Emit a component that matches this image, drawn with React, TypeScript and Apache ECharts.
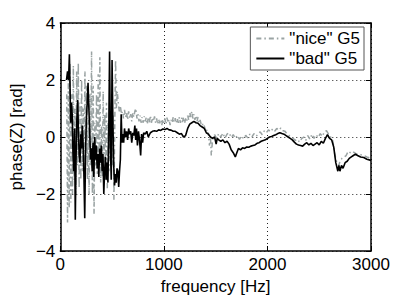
import React, { useEffect, useRef } from "react";
import * as echarts from "echarts";

const badFreq = [60,70,80,88,95,100,108,115,122,130,138,145,152,160,168,175,182,190,198,205,212,220,228,236,244,252,260,268,276,284,292,300,308,316,324,332,340,348,356,364,372,380,388,396,404,412,420,428,436,444,452,460,468,476,484,492,500,508,516,524,532,540,548,556,564,572,580,588,596,604,612,620,630,640,650,660,670,680,690,700,710,720,728,736,745,755,765,776,785,795,805,820,835,850,870,890,910,930,950,970,990,1010,1030,1050,1070,1090,1110,1130,1150,1170,1190,1210,1230,1250,1270,1290,1310,1330,1350,1370,1390,1410,1430,1450,1470,1490,1505,1515,1530,1550,1570,1590,1610,1630,1650,1670,1690,1700,1720,1740,1760,1780,1800,1820,1840,1860,1880,1900,1920,1940,1960,1980,2000,2020,2040,2060,2080,2100,2120,2140,2160,2180,2200,2220,2240,2260,2280,2300,2320,2340,2360,2380,2400,2420,2440,2460,2480,2500,2520,2540,2560,2580,2600,2620,2640,2660,2680,2690,2700,2715,2730,2750,2770,2790,2810,2830,2850,2870,2900,2930,2960,3000];
const badPhase = [2.0,2.3,2.0,2.9,1.6,0.5,1.2,0.8,-0.5,-1.2,0.3,-2.9,-0.8,0.6,1.3,0.2,-0.6,-0.9,0.1,-0.4,0.4,-0.2,-1.3,-2.85,-0.5,0.6,1.2,1.9,1.0,0.2,-0.8,-0.4,-1.2,-0.2,-1.4,0.0,-0.8,-0.3,-1.1,-0.6,-1.4,-0.4,-0.9,-0.3,-1.2,-0.6,-2.0,-1.2,-0.7,-1.5,-0.9,-1.6,0.2,3.0,-0.4,-1.5,2.7,0.5,-1.0,-1.7,-1.3,-1.6,-1.1,-1.2,-1.75,-1.2,-0.8,0.8,-0.2,0.1,-0.2,0.3,0.0,0.2,-0.1,0.3,0.1,0.2,-0.2,0.15,0.05,0.4,-0.1,0.3,-0.3,0.2,-0.1,-0.65,0.1,-0.2,0.15,0.1,0.2,0.0,0.15,0.2,0.22,0.2,0.25,0.23,0.28,0.26,0.3,0.25,0.24,0.2,0.2,0.15,0.1,0.12,0.0,0.05,0.3,0.45,0.5,0.55,0.5,0.48,0.4,0.35,0.3,0.15,0.1,0.0,-0.05,0.0,-0.25,-0.05,-0.1,-0.15,-0.1,-0.2,-0.15,-0.25,-0.45,-0.55,-0.7,-0.6,-0.4,-0.45,-0.38,-0.4,-0.35,-0.36,-0.32,-0.3,-0.28,-0.22,-0.2,-0.15,-0.12,-0.1,-0.05,0.0,0.02,0.05,0.08,0.12,0.15,0.12,0.1,0.05,0.0,-0.05,-0.1,-0.18,-0.25,-0.28,-0.3,-0.32,-0.25,-0.2,-0.28,-0.22,-0.3,-0.25,-0.2,-0.28,-0.15,-0.22,-0.05,0.08,-0.05,-0.1,-0.35,-0.9,-1.2,-1.0,-1.2,-1.0,-1.1,-0.9,-0.85,-0.75,-0.7,-0.65,-0.6,-0.65,-0.7,-0.72,-0.78,-0.82];

const niceFreq = [62,70,78,86,94,102,110,118,126,134,142,150,158,166,174,182,190,198,206,214,222,230,238,246,254,262,270,278,286,294,302,310,318,326,334,342,350,358,366,374,382,390,398,406,414,422,430,438,446,454,462,470,478,486,494,502,510,518,526,534,542,550,560,570,580,590,600,610,620,630,640,650,660,670,680,690,700,710,720,730,740,750,760,770,780,790,800,810,820,830,840,850,860,870,880,890,900,910,920,930,940,950,960,970,980,990,1000,1010,1020,1030,1040,1050,1060,1070,1080,1090,1100,1110,1120,1130,1140,1150,1160,1170,1180,1190,1200,1210,1220,1230,1240,1250,1260,1270,1280,1290,1300,1310,1320,1330,1340,1350,1360,1370,1380,1390,1400,1410,1420,1430,1440,1450,1458,1470,1490,1510,1530,1550,1570,1590,1610,1630,1650,1670,1690,1710,1730,1750,1770,1790,1810,1830,1850,1870,1890,1910,1930,1950,1970,1990,2010,2030,2050,2070,2090,2110,2130,2150,2170,2190,2210,2230,2250,2270,2290,2310,2330,2350,2370,2390,2410,2430,2450,2470,2490,2510,2530,2550,2570,2590,2610,2630,2650,2670,2690,2700,2720,2740,2760,2780,2800,2820,2840,2860,2880,2900,2930,2960,3000];
const nicePhase = [1.5,-3.0,2.0,-2.5,2.6,-2.3,1.5,-2.0,2.5,-1.5,1.0,-2.0,2.3,-1.0,2.6,-1.8,1.2,-1.5,2.0,-1.2,1.0,-1.4,2.3,-0.8,1.8,-1.5,0.6,-2.0,1.5,-1.0,3.0,-2.0,1.8,-2.7,0.5,-1.0,1.5,-1.3,2.2,-0.8,2.8,-1.6,0.4,-1.4,1.6,-1.0,0.8,-1.5,1.2,-1.8,0.5,-1.2,0.9,-0.8,1.2,-1.0,0.8,-2.2,0.5,2.7,1.0,1.6,1.2,0.9,1.1,0.8,0.9,0.65,0.95,0.7,0.85,0.6,0.9,0.65,0.8,0.55,0.85,0.7,0.9,1.0,0.65,0.8,0.55,0.75,0.5,0.7,0.5,0.72,0.55,0.68,0.45,0.7,0.5,0.75,0.5,0.68,0.55,0.72,0.5,0.65,0.45,0.62,0.48,0.6,0.42,0.62,0.5,0.65,0.45,0.68,0.5,0.62,0.42,0.6,0.5,0.7,0.52,0.66,0.48,0.65,0.5,0.7,0.5,0.68,0.52,0.7,0.48,0.65,0.55,0.75,0.6,0.85,0.7,0.9,0.65,0.8,0.6,0.75,0.55,0.7,0.5,0.6,0.45,0.5,0.35,0.4,0.25,0.3,0.1,0.15,-0.3,0.0,-0.65,-0.1,0.08,-0.05,0.12,0.0,0.14,-0.04,0.1,0.15,-0.02,0.08,-0.05,0.06,-0.08,0.04,-0.06,0.06,-0.03,0.1,0.0,0.12,0.02,0.1,0.18,0.08,0.22,0.15,0.25,0.18,0.28,0.2,0.3,0.24,0.32,0.22,0.2,0.1,0.05,0.0,-0.05,-0.12,-0.08,-0.18,-0.06,0.0,-0.12,0.05,-0.08,0.1,-0.05,0.08,-0.02,0.12,0.02,0.18,0.22,0.1,0.0,-0.1,-0.6,-0.9,-1.0,-0.85,-0.75,-0.7,-0.65,-0.5,-0.55,-0.5,-0.55,-0.6,-0.6,-0.62,-0.65,-0.7,-0.75];

const xTicks = [0, 1000, 2000, 3000];
const yTicks = [-4, -2, 0, 2, 4];
const seriesNames = ['"nice" G5', '"bad" G5'];

const FONT = "Liberation Sans, Arial, Helvetica, sans-serif";

export default function App() {
  const ref = useRef<HTMLDivElement>(null);
  useEffect(() => {
    if (!ref.current) return;
    const chart = echarts.init(ref.current, undefined, { renderer: "svg" });
    const zip = (xs: number[], ys: number[]) => xs.map((x, i) => [x, ys[i]]);
    const dotted = { show: true, lineStyle: { color: "#222", type: [1, 3] as any, width: 1 } };
    const tick = { show: true, inside: true, length: 5, lineStyle: { color: "#000" } };
    const line = { show: true, onZero: false, lineStyle: { color: "#000", width: 1.5 } };
    chart.setOption({
      animation: false,
      backgroundColor: "#fff",
      textStyle: { fontFamily: FONT },
      grid: { left: 53, right: 38, top: 23, bottom: 41, show: false },
      legend: {
        orient: "vertical",
        right: 45,
        top: 27,
        width: 114,
        backgroundColor: "#fff",
        borderColor: "#555",
        borderWidth: 1,
        borderRadius: 0,
        padding: [3, 4, 3, 5],
        itemWidth: 28,
        itemHeight: 10,
        itemGap: 3,
        itemStyle: { opacity: 0 },
        data: seriesNames,
        textStyle: { fontFamily: FONT, fontSize: 17, color: "#000" },
      },
      xAxis: [
        {
          type: "value",
          min: xTicks[0],
          max: xTicks[xTicks.length - 1],
          interval: 1000,
          name: "frequency [Hz]",
          nameLocation: "middle",
          nameGap: 27,
          nameTextStyle: { fontFamily: FONT, fontSize: 17, color: "#000" },
          axisLine: line,
          axisTick: tick,
          axisLabel: { fontFamily: FONT, fontSize: 17, color: "#000", margin: 5, formatter: (v: number) => String(v) },
          splitLine: dotted,
        },
        {
          type: "value",
          position: "top",
          min: xTicks[0],
          max: xTicks[xTicks.length - 1],
          interval: 1000,
          axisLine: line,
          axisTick: tick,
          axisLabel: { show: false },
          splitLine: { show: false },
        },
      ],
      yAxis: [
        {
          type: "value",
          min: yTicks[0],
          max: yTicks[yTicks.length - 1],
          interval: 2,
          name: "phase(Z) [rad]",
          nameLocation: "middle",
          nameGap: 26,
          nameTextStyle: { fontFamily: FONT, fontSize: 17, color: "#000" },
          axisLine: line,
          axisTick: tick,
          axisLabel: {
            fontFamily: FONT,
            fontSize: 17,
            color: "#000",
            margin: 5,
            formatter: (v: number) => String(v).replace("-", "\u2212"),
          },
          splitLine: dotted,
        },
        {
          type: "value",
          position: "right",
          min: yTicks[0],
          max: yTicks[yTicks.length - 1],
          interval: 2,
          axisLine: line,
          axisTick: tick,
          axisLabel: { show: false },
          splitLine: { show: false },
        },
      ],
      series: [
        {
          name: seriesNames[0],
          type: "line",
          data: zip(niceFreq, nicePhase),
          symbol: "none",
          color: "#9aa3a3",
          lineStyle: { color: "#9aa3a3", width: 1.5, type: [5, 3, 1.5, 3] as any },
        },
        {
          name: seriesNames[1],
          type: "line",
          data: zip(badFreq, badPhase),
          symbol: "none",
          color: "#000",
          lineStyle: { color: "#000", width: 1.6 },
        },
      ],
    });
    return () => chart.dispose();
  }, []);
  return <div ref={ref} style={{ width: 409, height: 300, position: "absolute", left: 0, top: 0 }} />;
}
